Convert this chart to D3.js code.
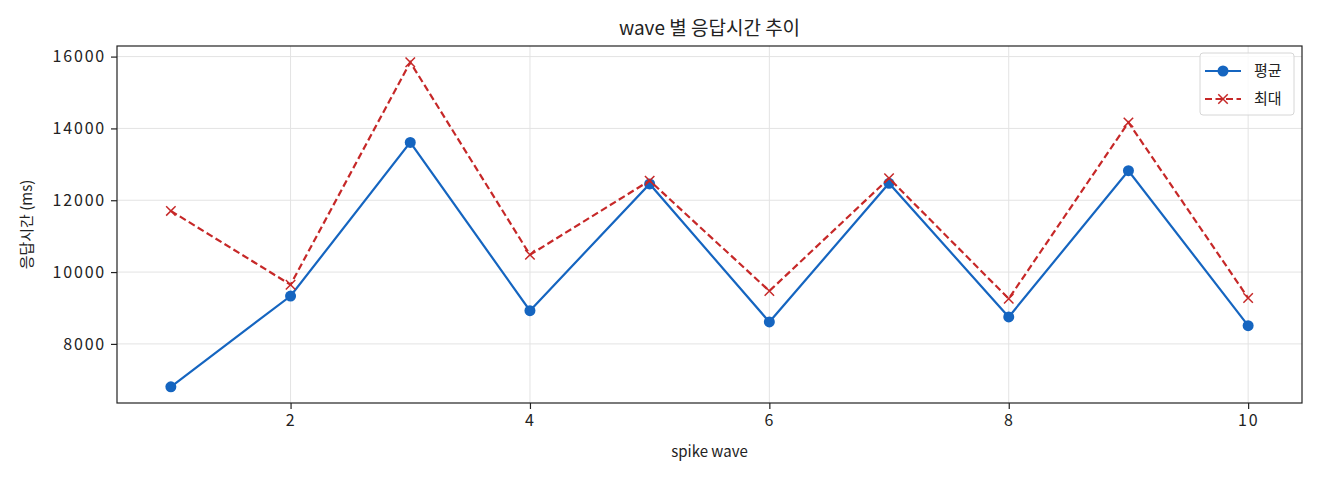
<!DOCTYPE html>
<head>
  <meta charset="utf-8">
  <script src="https://d3js.org/d3.v7.min.js"></script>
  <style>
    body { margin:0; background:#fff; }
    svg text { font-family: "Noto Sans CJK KR", "Noto Sans", sans-serif; fill:#222; }
    .grid line { stroke:#e3e3e3; stroke-width:1; }
  </style>
</head>
<body>
  <svg width="1320" height="480"></svg>
  <script>
    var waves = [1, 2, 3, 4, 5, 6, 7, 8, 9, 10];
    var avgMs = [6806, 9333, 13611, 8925, 12453, 8611, 12472, 8750, 12822, 8508];
    var maxMs = [11703, 9648, 15843, 10481, 12546, 9472, 12611, 9258, 14167, 9278];
    var xTicks = [2, 4, 6, 8, 10];
    var yTicks = [8000, 10000, 12000, 14000, 16000];
    var seriesNames = ["평균", "최대"];

    var svg = d3.select("svg");
    // plot box (note: "top" is taken by window.top, so prefix these)
    var pLeft = 117, pRight = 1302, pTop = 46, pBottom = 403;

    // matplotlib style 5% padding
    var xPad = (d3.max(waves) - d3.min(waves)) * 0.05;
    var allY = avgMs.concat(maxMs);
    var yPad = (d3.max(allY) - d3.min(allY)) * 0.05;

    var x = d3.scaleLinear()
      .domain([d3.min(waves) - xPad, d3.max(waves) + xPad])
      .range([pLeft, pRight]);
    var y = d3.scaleLinear()
      .domain([d3.min(allY) - yPad, d3.max(allY) + yPad])
      .range([pBottom, pTop]);

    // grid
    var grid = svg.append("g").attr("class", "grid");
    grid.selectAll(".gx").data(xTicks).enter().append("line")
      .attr("x1", function(d){ return x(d); }).attr("x2", function(d){ return x(d); })
      .attr("y1", pTop).attr("y2", pBottom);
    grid.selectAll(".gy").data(yTicks).enter().append("line")
      .attr("x1", pLeft).attr("x2", pRight)
      .attr("y1", function(d){ return y(d); }).attr("y2", function(d){ return y(d); });

    // axes
    var xAxis = svg.append("g")
      .attr("transform", "translate(0," + pBottom + ")")
      .call(d3.axisBottom(x).tickValues(xTicks).tickSize(6).tickPadding(6).tickFormat(d3.format("d")));
    var yAxis = svg.append("g")
      .attr("transform", "translate(" + pLeft + ",0)")
      .call(d3.axisLeft(y).tickValues(yTicks).tickSize(6).tickPadding(5).tickFormat(d3.format("d")));
    [xAxis, yAxis].forEach(function(a) {
      a.select(".domain").remove();
      a.selectAll(".tick line").attr("stroke", "#222").attr("stroke-width", 1.2);
      a.selectAll(".tick text").attr("font-size", 16).attr("fill", "#222")
        .style("letter-spacing", "1.8px");
    });

    svg.append("rect")
      .attr("x", pLeft).attr("y", pTop)
      .attr("width", pRight - pLeft).attr("height", pBottom - pTop)
      .attr("fill", "none").attr("stroke", "#222").attr("stroke-width", 1.2);

    var line = d3.line()
      .x(function(d, i){ return x(waves[i]); })
      .y(function(d){ return y(d); });

    // 평균
    svg.append("path")
      .attr("d", line(avgMs))
      .attr("fill", "none").attr("stroke", "#1565c0").attr("stroke-width", 2.2);
    svg.selectAll(".dot").data(avgMs).enter().append("circle")
      .attr("cx", function(d, i){ return x(waves[i]); })
      .attr("cy", function(d){ return y(d); })
      .attr("r", 5.5).attr("fill", "#1565c0");

    // 최대
    svg.append("path")
      .attr("d", line(maxMs))
      .attr("fill", "none").attr("stroke", "#c62828").attr("stroke-width", 2.2)
      .attr("stroke-dasharray", "7,3.5");
    var cross = d3.symbol().type(d3.symbolX).size(60);
    svg.selectAll(".xm").data(maxMs).enter().append("path")
      .attr("d", cross)
      .attr("transform", function(d, i){ return "translate(" + x(waves[i]) + "," + y(d) + ")"; })
      .attr("fill", "none").attr("stroke", "#c62828").attr("stroke-width", 1.5);

    // labels
    svg.append("text").attr("x", (pLeft + pRight) / 2).attr("y", 35)
      .attr("text-anchor", "middle").attr("font-size", 19).text("wave 별 응답시간 추이");
    svg.append("text").attr("x", (pLeft + pRight) / 2).attr("y", 457)
      .attr("text-anchor", "middle").attr("font-size", 15).text("spike wave");
    svg.append("text")
      .attr("transform", "translate(32," + (pTop + pBottom) / 2 + ") rotate(-90)")
      .attr("text-anchor", "middle").attr("font-size", 15).text("응답시간 (ms)");

    // legend
    var lg = svg.append("g");
    lg.append("rect").attr("x", 1200).attr("y", 53).attr("width", 94).attr("height", 62)
      .attr("rx", 3).attr("fill", "#fff").attr("fill-opacity", 0.8)
      .attr("stroke", "#d6d6d6");
    var rows = lg.selectAll(".row").data(seriesNames).enter().append("g")
      .attr("transform", function(d, i){ return "translate(0," + (71 + i * 28) + ")"; });
    rows.append("line").attr("x1", 1205).attr("x2", 1241).attr("y1", 0).attr("y2", 0)
      .attr("stroke", function(d, i){ return i ? "#c62828" : "#1565c0"; })
      .attr("stroke-width", 2.2)
      .attr("stroke-dasharray", function(d, i){ return i ? "7,3.5" : null; });
    rows.filter(function(d, i){ return i === 0; }).append("circle")
      .attr("cx", 1223).attr("cy", 0).attr("r", 5.5).attr("fill", "#1565c0");
    rows.filter(function(d, i){ return i === 1; }).append("path")
      .attr("d", cross).attr("transform", "translate(1223,0)")
      .attr("fill", "none").attr("stroke", "#c62828").attr("stroke-width", 1.5);
    rows.append("text").attr("x", 1254).attr("y", 5).attr("font-size", 15)
      .text(function(d){ return d; });
  </script>
</body>
